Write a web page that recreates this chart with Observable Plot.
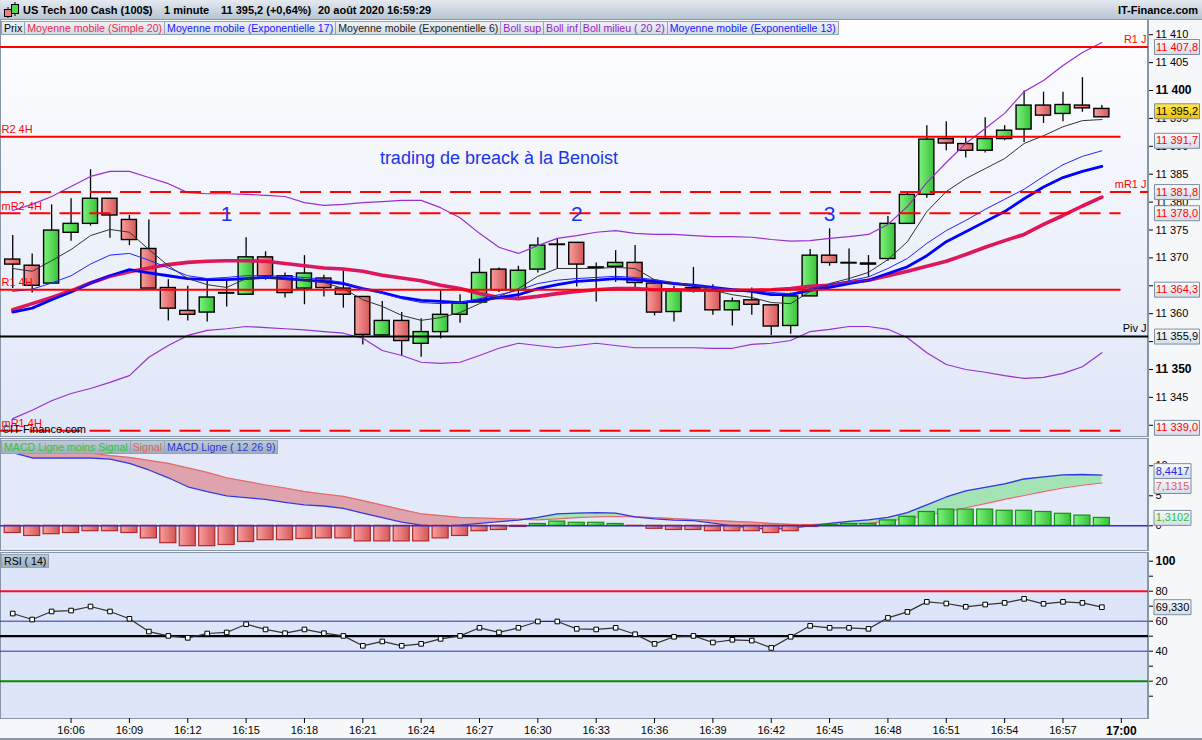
<!DOCTYPE html>
<html>
<head>
<meta charset="utf-8">
<script src="https://cdn.jsdelivr.net/npm/d3@7"></script>
<script src="https://cdn.jsdelivr.net/npm/@observablehq/plot@0.6"></script>
<style>
  body { margin: 0; background: #f6f7f9; font-family: "Liberation Sans", Arial, sans-serif; }
  #page { position: relative; width: 1202px; height: 740px; overflow: hidden; }
  .abs { position: absolute; }
  #hdr { left: 0; top: 0; width: 1202px; height: 19px; border-bottom: 1px solid #8a98a8;
         background: linear-gradient(#e4e9ef, #b7c5d2); font-size: 11px; font-weight: bold; line-height: 20px; }
  #hdr span { position: absolute; top: 0; white-space: nowrap; }
  .bg { left: 0; width: 1149px; box-sizing: border-box; border-left: 1px solid #8797a7; border-right: 2px solid #8797a7; }
  #mainBg { top: 20px; height: 417px; background: linear-gradient(#fefeff, #dfe6f7); border-bottom: 1px solid #8797a7; }
  #macdBg { top: 438px; height: 113px; background: #e3e9f9; border-top: 1px solid #8797a7; border-bottom: 1px solid #8797a7; }
  #rsiBg { top: 552px; height: 167px; background: #dde5f8; border-top: 1px solid #8797a7; border-bottom: 1px solid #8797a7; }
  #foot { left: 0; top: 738px; width: 1202px; height: 2px; background: #8797a7; }
  .legend { display: flex; left: 1px; font-size: 10.6px; line-height: 12px; }
  .legend span { border: 1px solid #93a3b3; margin-right: -1px; padding: 0 2px; white-space: nowrap;
                 background: linear-gradient(#eef2f6, #d3dbe4); }
  .legend.dark span { background: linear-gradient(#bccbd6, #9cafbd); }
  #copy { left: 2px; top: 423px; font-size: 11px; color: #000; }
</style>
</head>
<body>
<svg width="0" height="0" style="position:absolute">
  <defs>
    <linearGradient id="gUp" x1="0" x2="1" y1="0" y2="0"><stop offset="0" stop-color="#7ef27e"/><stop offset="1" stop-color="#38c238"/></linearGradient>
    <linearGradient id="gDn" x1="0" x2="1" y1="0" y2="0"><stop offset="0" stop-color="#fa9e9e"/><stop offset="1" stop-color="#d45757"/></linearGradient>
    <linearGradient id="gBox" x1="0" x2="0" y1="0" y2="1"><stop offset="0" stop-color="#f8fafd"/><stop offset="1" stop-color="#d4dde9"/></linearGradient>
    <linearGradient id="gYel" x1="0" x2="0" y1="0" y2="1"><stop offset="0" stop-color="#ffe94e"/><stop offset="1" stop-color="#f1c000"/></linearGradient>
  </defs>
</svg>
<div id="page">
  <div id="hdr" class="abs">
    <svg class="abs" style="left:2px;top:1px" width="18" height="18">
      <line x1="6" y1="6" x2="6" y2="17" stroke="#000"/><rect x="2.5" y="8.5" width="7" height="7" fill="#f08080" stroke="#000"/>
      <line x1="13" y1="1" x2="13" y2="15" stroke="#000"/><rect x="9.5" y="3.5" width="7" height="9" fill="#50d850" stroke="#000"/>
    </svg>
    <span style="left:23px">US Tech 100 Cash (100$)</span>
    <span style="left:164px">1 minute</span>
    <span style="left:221px">11 395,2 (+0,64%)</span>
    <span style="left:318px">20 août 2020 16:59:29</span>
    <span style="right:4px">IT-Finance.com</span>
  </div>
  <div id="mainBg" class="abs bg"></div>
  <div id="macdBg" class="abs bg"></div>
  <div id="rsiBg" class="abs bg"></div>
  <div id="foot" class="abs"></div>
  <div id="mainChart" class="abs" style="left:0;top:20px"></div>
  <div id="macdChart" class="abs" style="left:0;top:438px"></div>
  <div id="rsiChart" class="abs" style="left:0;top:552px"></div>
  <div class="legend abs" style="top:21px">
    <span>Prix</span>
    <span style="color:#ec2a52">Moyenne mobile (Simple 20)</span>
    <span style="color:#2020ff">Moyenne mobile (Exponentielle 17)</span>
    <span style="color:#222">Moyenne mobile (Exponentielle 6)</span>
    <span style="color:#9a20d0">Boll sup</span>
    <span style="color:#9a20d0">Boll inf</span>
    <span style="color:#9a20d0">Boll milieu ( 20 2)</span>
    <span style="color:#2020ff">Moyenne mobile (Exponentielle 13)</span>
  </div>
  <div class="legend dark abs" style="top:440px">
    <span style="color:#36c236">MACD Ligne moins Signal</span>
    <span style="color:#e25e5e">Signal</span>
    <span style="color:#3434d8">MACD Ligne ( 12 26 9)</span>
  </div>
  <div class="legend dark abs" style="top:554px"><span>RSI ( 14)</span></div>
  <div id="copy" class="abs">©IT-Finance.com</div>
</div>
<script>
// nombres à la française : 11 407,8
d3.formatDefaultLocale({ decimal: ',', thousands: ' ', grouping: [3], currency: ['', ' €'] })

// bougies 1 minute
const minutes = ['16:03','16:04','16:05','16:06','16:07','16:08','16:09','16:10','16:11','16:12',
  '16:13','16:14','16:15','16:16','16:17','16:18','16:19','16:20','16:21','16:22',
  '16:23','16:24','16:25','16:26','16:27','16:28','16:29','16:30','16:31','16:32',
  '16:33','16:34','16:35','16:36','16:37','16:38','16:39','16:40','16:41','16:42',
  '16:43','16:44','16:45','16:46','16:47','16:48','16:49','16:50','16:51','16:52',
  '16:53','16:54','16:55','16:56','16:57','16:58','16:59']
const emptyMinutes = ['17:00', '17:01']
const timeTicks = ['16:06','16:09','16:12','16:15','16:18','16:21','16:24','16:27','16:30','16:33',
  '16:36','16:39','16:42','16:45','16:48','16:51','16:54','16:57','17:00']

const open = [11369.7, 11368.6, 11365.4, 11374.5, 11376.1, 11380.6, 11376.8, 11371.6, 11364.6, 11360.5,
  11360.2, 11363.7, 11363.4, 11370.1, 11366.7, 11364.5, 11366.3, 11364.5, 11363.0, 11356.1,
  11358.7, 11354.6, 11356.7, 11359.8, 11362.0, 11367.9, 11364.2, 11367.9, 11372.4, 11372.7,
  11368.3, 11368.4, 11369.1, 11365.4, 11360.3, 11364.6, 11364.2, 11360.6, 11362.4, 11361.5,
  11357.8, 11363.1, 11370.4, 11369.1, 11369.0, 11369.8, 11376.1, 11381.3, 11391.3, 11390.4,
  11389.2, 11391.3, 11393.0, 11397.3, 11395.8, 11397.3, 11396.7]
const high = [11374.0, 11370.7, 11379.5, 11380.6, 11385.8, 11380.6, 11377.6, 11376.8, 11366.1, 11364.9,
  11366.0, 11366.1, 11373.6, 11371.1, 11367.3, 11370.4, 11366.9, 11367.9, 11363.0, 11362.2,
  11360.2, 11359.1, 11364.2, 11363.4, 11369.8, 11368.2, 11368.5, 11373.6, 11373.4, 11372.7,
  11369.1, 11371.3, 11372.2, 11365.4, 11364.9, 11368.3, 11365.2, 11362.8, 11364.6, 11361.6,
  11363.7, 11371.5, 11375.2, 11371.6, 11370.4, 11377.4, 11381.8, 11393.7, 11394.4, 11391.5,
  11395.1, 11393.7, 11399.9, 11399.7, 11399.7, 11402.3, 11397.3]
const low = [11364.5, 11363.7, 11365.4, 11373.0, 11375.7, 11373.5, 11372.2, 11364.5, 11358.7, 11358.7,
  11358.5, 11361.2, 11363.4, 11366.0, 11362.8, 11361.6, 11363.0, 11361.0, 11354.4, 11356.0,
  11352.5, 11352.2, 11355.5, 11358.3, 11362.0, 11363.8, 11362.4, 11367.3, 11368.0, 11364.8,
  11362.1, 11365.6, 11364.7, 11359.6, 11358.5, 11363.7, 11359.7, 11357.8, 11359.7, 11356.1,
  11356.3, 11363.1, 11368.5, 11365.4, 11366.5, 11369.4, 11376.1, 11380.7, 11389.2, 11387.9,
  11388.8, 11391.0, 11390.7, 11394.1, 11394.4, 11396.1, 11395.1]
const close = [11368.8, 11365.0, 11374.9, 11376.1, 11380.6, 11377.6, 11373.2, 11364.5, 11360.9, 11359.8,
  11362.9, 11363.6, 11370.1, 11366.7, 11363.7, 11367.2, 11364.6, 11363.4, 11356.2, 11358.7,
  11355.1, 11356.7, 11359.8, 11361.8, 11367.3, 11364.2, 11367.7, 11372.2, 11372.3, 11368.8,
  11368.2, 11369.1, 11365.5, 11360.2, 11364.0, 11364.4, 11360.6, 11362.2, 11361.6, 11357.7,
  11363.1, 11370.4, 11369.1, 11369.0, 11368.8, 11376.1, 11381.3, 11391.2, 11390.5, 11389.2,
  11391.3, 11392.8, 11397.3, 11395.5, 11397.4, 11396.8, 11395.2]

// moyennes mobiles et bandes de Bollinger
const ema6 = [11368.1, 11367.6, 11369.5, 11371.5, 11374.0, 11375.1, 11374.6, 11371.5, 11368.6, 11366.3,
  11365.2, 11364.7, 11366.3, 11366.5, 11366.1, 11366.0, 11365.6, 11364.5, 11362.5, 11361.3,
  11359.7, 11358.8, 11359.3, 11360.2, 11361.8, 11363.1, 11364.5, 11366.7, 11368.1, 11368.1,
  11368.1, 11368.3, 11368.1, 11366.1, 11365.4, 11365.1, 11364.2, 11363.4, 11362.9, 11362.0,
  11361.8, 11364.0, 11365.4, 11366.3, 11367.4, 11369.7, 11372.9, 11378.3, 11381.9, 11384.2,
  11386.0, 11387.8, 11390.5, 11391.9, 11393.5, 11394.6, 11394.8]
const ema13 = [11364.0, 11364.4, 11365.5, 11366.8, 11368.9, 11370.5, 11370.8, 11369.6, 11368.2, 11366.8,
  11366.3, 11366.5, 11366.8, 11366.8, 11366.7, 11366.5, 11366.1, 11365.6, 11364.5, 11363.6,
  11362.7, 11362.0, 11361.8, 11362.0, 11362.7, 11363.4, 11364.2, 11365.4, 11366.0, 11366.3,
  11366.5, 11366.7, 11366.5, 11366.1, 11365.6, 11365.1, 11364.7, 11364.3, 11364.2, 11363.8,
  11363.6, 11364.5, 11365.2, 11365.9, 11366.6, 11368.1, 11369.9, 11372.6, 11374.9, 11376.7,
  11378.7, 11380.5, 11382.3, 11384.6, 11386.7, 11388.2, 11389.2]
const ema17 = [11360.3, 11361.0, 11362.5, 11363.9, 11365.5, 11366.8, 11367.9, 11367.3, 11366.8, 11366.3,
  11366.1, 11366.1, 11366.3, 11366.5, 11366.3, 11366.0, 11365.8, 11365.4, 11364.5, 11363.8,
  11362.9, 11362.4, 11362.2, 11362.0, 11362.4, 11362.9, 11363.4, 11364.5, 11365.2, 11365.8,
  11366.0, 11366.3, 11366.1, 11365.8, 11365.4, 11365.1, 11364.7, 11364.3, 11364.0, 11363.4,
  11363.4, 11364.2, 11364.7, 11365.4, 11366.0, 11367.2, 11368.4, 11370.4, 11372.9, 11374.7,
  11376.5, 11378.3, 11380.6, 11382.7, 11384.4, 11385.5, 11386.4]
const sma20 = [11360.7, 11361.8, 11362.9, 11364.1, 11365.5, 11366.7, 11367.5, 11368.2, 11368.8, 11369.2,
  11369.4, 11369.5, 11369.5, 11369.4, 11369.0, 11368.6, 11368.2, 11368.0, 11367.6, 11366.9,
  11366.4, 11365.9, 11365.1, 11364.5, 11363.6, 11362.9, 11362.7, 11363.1, 11363.6, 11364.0,
  11364.3, 11364.5, 11364.5, 11364.3, 11364.3, 11364.2, 11364.2, 11364.2, 11364.2, 11364.3,
  11364.5, 11364.9, 11365.1, 11365.6, 11366.0, 11366.8, 11367.6, 11368.5, 11369.4, 11370.6,
  11371.9, 11373.1, 11374.2, 11376.0, 11377.6, 11379.3, 11380.9]
const bollSup = [11378.5, 11379.6, 11381.0, 11382.8, 11384.6, 11385.5, 11385.5, 11384.4, 11383.3, 11381.7,
  11381.5, 11381.5, 11381.4, 11381.2, 11381.0, 11379.9, 11379.4, 11379.6, 11379.9, 11380.1,
  11380.3, 11380.3, 11379.0, 11377.2, 11374.4, 11371.9, 11370.8, 11372.2, 11373.5, 11374.0,
  11374.6, 11374.9, 11374.4, 11374.2, 11374.2, 11374.0, 11373.8, 11373.8, 11373.7, 11373.3,
  11373.0, 11373.1, 11373.5, 11373.8, 11374.2, 11376.0, 11379.2, 11383.5, 11387.1, 11390.5,
  11393.2, 11395.9, 11399.8, 11401.8, 11404.5, 11406.8, 11408.6]
const bollInf = [11341.2, 11342.7, 11344.4, 11345.7, 11346.6, 11347.7, 11348.9, 11352.2, 11354.3, 11356.1,
  11357.0, 11357.3, 11357.7, 11357.5, 11357.3, 11357.1, 11356.8, 11356.5, 11355.6, 11353.4,
  11352.5, 11351.3, 11351.1, 11351.3, 11352.5, 11353.8, 11354.7, 11354.3, 11353.9, 11354.3,
  11354.7, 11354.3, 11353.9, 11353.9, 11353.9, 11353.9, 11353.8, 11353.8, 11354.5, 11354.7,
  11355.2, 11356.8, 11357.2, 11357.7, 11357.7, 11357.2, 11355.7, 11353.0, 11350.9, 11350.0,
  11349.5, 11348.9, 11348.4, 11348.6, 11349.3, 11350.5, 11353.0]

// MACD (12 26 9)
const macdLine = [12.2, 11.3, 11.3, 11.3, 11.3, 11.1, 10.4, 9.3, 8.0, 6.5,
  5.7, 5.0, 4.7, 4.4, 3.9, 3.5, 3.3, 2.9, 2.1, 1.35,
  0.6, 0.1, -0.1, 0.1, 0.4, 0.7, 0.95, 1.4, 2.0, 2.1,
  2.2, 2.1, 1.5, 1.15, 0.95, 0.85, 0.45, 0.0, -0.35, -0.6,
  -0.4, 0.0, 0.4, 0.75, 1.0, 1.4, 2.2, 3.5, 4.8, 5.8,
  6.4, 7.0, 7.8, 8.15, 8.5, 8.55, 8.4417]
const macdSignal = [13.0, 12.6, 12.4, 12.2, 12.1, 11.7, 11.4, 10.9, 10.4, 9.65,
  8.9, 8.0, 7.4, 6.8, 6.3, 5.7, 5.3, 4.9, 4.2, 3.45,
  2.7, 2.0, 1.7, 1.4, 1.3, 1.2, 1.1, 1.0, 1.15, 1.35,
  1.5, 1.55, 1.5, 1.35, 1.2, 1.05, 0.9, 0.75, 0.6, 0.4,
  0.25, 0.2, 0.2, 0.3, 0.4, 0.8, 1.2, 1.75, 2.3, 3.0,
  3.7, 4.4, 5.05, 5.7, 6.3, 6.75, 7.1315]
const macdHist = [-1.2, -1.7, -1.4, -1.2, -0.9, -0.9, -1.2, -2.1, -2.9, -3.4,
  -3.4, -3.2, -2.7, -2.4, -2.4, -2.2, -2.1, -2.1, -2.6, -2.6,
  -2.6, -2.6, -2.1, -1.7, -0.9, -0.7, -0.2, 0.3, 0.7, 0.5,
  0.5, 0.3, -0.05, -0.5, -0.7, -0.7, -0.9, -0.9, -0.9, -1.2,
  -0.9, -0.2, 0.15, 0.3, 0.3, 0.9, 1.5, 2.3, 2.7, 2.7,
  2.7, 2.5, 2.5, 2.3, 2.0, 1.7, 1.3102]

// RSI (14)
const rsi = [65.1, 61.1, 66.5, 67.1, 69.8, 66.5, 61.6, 53.1, 50.2, 48.9,
  51.8, 52.5, 58.0, 54.5, 52.0, 54.5, 52.0, 50.2, 43.6, 46.5,
  43.6, 44.9, 48.2, 50.2, 55.6, 52.5, 55.6, 59.8, 59.8, 54.9,
  54.5, 55.6, 51.3, 44.9, 49.6, 50.2, 45.8, 47.6, 47.1, 42.2,
  49.6, 56.9, 55.6, 55.6, 54.9, 62.2, 66.2, 72.9, 71.8, 69.6,
  71.1, 72.2, 74.9, 71.6, 72.9, 72.2, 69.33]
const rsiTicks = [10, 20, 30, 40, 50, 60, 70, 80, 90, 100]

// niveaux pivots
const levelNames = ['R1 J', 'R2 4H', 'mR1 J', 'mR2 4H', 'R1 4H', 'Piv J', 'mR1 4H']
const levelValues = [11407.8, 11391.7, 11381.8, 11378.0, 11364.3, 11355.9, 11339.0]
const priceTicks = [11340, 11345, 11350, 11355, 11360, 11365, 11370, 11375, 11380, 11385, 11390, 11395, 11400, 11405, 11410]
// graduations entièrement cachées par les étiquettes de niveau
const hiddenTicks = [11340, 11355, 11365]

// annotations
const noteText = ['trading de breack à la Benoist', '1', '2', '3']
const noteTime = ['16:28', '16:14', '16:32', '16:45']
const notePrice = [11387.8, 11377.9, 11377.9, 11377.9]

const candles = minutes.map((t, i) => ({
  t, open: open[i], high: high[i], low: low[i], close: close[i],
  ema6: ema6[i], ema13: ema13[i], ema17: ema17[i], sma20: sma20[i],
  bollSup: bollSup[i], bollInf: bollInf[i],
  macd: macdLine[i], signal: macdSignal[i], hist: macdHist[i], rsi: rsi[i],
}))
const up = candles.filter(d => d.close > d.open)
const down = candles.filter(d => d.close <= d.open)
const levels = levelNames.map((name, i) => ({ name, value: levelValues[i] }))
const daily = levels.filter(d => d.name.endsWith(' J'))
const h4 = levels.filter(d => !d.name.endsWith(' J'))
const dashed = d => d.name.startsWith('m')
const notes = noteText.map((text, i) => ({ text, t: noteTime[i], price: notePrice[i] }))
const levelOf = name => levelValues[levelNames.indexOf(name)]

const fmtTick = d3.format(',')
const fmtPrice = d3.format(',.1f')
const RED = '#ff0000'
const DASH = '21,9'
const font = { background: 'transparent', fontFamily: "'Liberation Sans', Arial, sans-serif", fontSize: '11px', overflow: 'visible' }
const xBand = { type: 'band', domain: minutes.concat(emptyMinutes), range: [2.5, 1150], padding: 0, align: 0.5, round: false }
// les niveaux 4H s'arrêtent sur la dernière minute
const h4Span = { x1: () => minutes[0], x2: () => emptyMinutes[0], insetLeft: -3, insetRight: 10 }

// petite boîte des valeurs sur l'axe de droite
const boxSymbol = (w, h) => ({
  draw(ctx) {
    ctx.moveTo(-w / 2, -h / 2); ctx.lineTo(w / 2, -h / 2); ctx.lineTo(w / 2, h / 2); ctx.lineTo(-w / 2, h / 2); ctx.closePath()
  }
})
const valueBox = (values, format, color, { w = 45, dx = 28.5, dy = 0, fill = 'url(#gBox)' } = {}) => [
  Plot.dot(values, { y: d => d, frameAnchor: 'right', dx, dy, symbol: boxSymbol(w, 15), fill, stroke: '#7c8ea0', strokeWidth: 1 }),
  Plot.text(values, { y: d => d, frameAnchor: 'right', textAnchor: 'middle', dx, dy, text: format, fill: color, fontSize: 11 }),
]

// graphique principal
const mainChart = Plot.plot({
  width: 1202, height: 418,
  marginTop: 16, marginBottom: 1, marginLeft: 0, marginRight: 54,
  style: font,
  x: { ...xBand, axis: null },
  y: {
    domain: [11337.81, 11409.68], axis: 'right', ticks: priceTicks,
    tickFormat: d => (hiddenTicks.includes(d) ? '' : fmtTick(d)), tickSize: 4, tickPadding: 3, label: null,
  },
  marks: [
    Plot.ruleX(candles, { x: 't', y1: 'low', y2: 'high', stroke: '#000', strokeWidth: 1.3 }),
    Plot.barY(up, { x: 't', y1: 'open', y2: 'close', fill: 'url(#gUp)', stroke: '#000', strokeWidth: 1.4, insetLeft: 2.2, insetRight: 2.2 }),
    Plot.barY(down, { x: 't', y1: 'open', y2: 'close', fill: 'url(#gDn)', stroke: '#000', strokeWidth: 1.4, insetLeft: 2.2, insetRight: 2.2 }),
    Plot.line(candles, { x: 't', y: 'sma20', stroke: '#e8124a', strokeWidth: 3.6 }),
    Plot.line(candles, { x: 't', y: 'ema17', stroke: '#0000ff', strokeWidth: 2.8 }),
    Plot.line(candles, { x: 't', y: 'ema6', stroke: '#333', strokeWidth: 1 }),
    Plot.line(candles, { x: 't', y: 'bollSup', stroke: '#9a2fd0', strokeWidth: 1.2 }),
    Plot.line(candles, { x: 't', y: 'bollInf', stroke: '#9a2fd0', strokeWidth: 1.2 }),
    Plot.line(candles, { x: 't', y: 'sma20', stroke: '#b02aa0', strokeWidth: 1, strokeOpacity: 0.6 }),
    Plot.line(candles, { x: 't', y: 'ema13', stroke: '#2424ff', strokeWidth: 1 }),

    // niveaux journaliers : toute la largeur
    Plot.ruleY(daily.filter(d => !dashed(d) && d.name !== 'Piv J'), { y: 'value', stroke: RED, strokeWidth: 2 }),
    Plot.ruleY(daily.filter(d => d.name === 'Piv J'), { y: 'value', stroke: '#000', strokeWidth: 2 }),
    Plot.ruleY(daily.filter(dashed), { y: 'value', stroke: RED, strokeWidth: 2, strokeDasharray: DASH }),
    Plot.ruleY(h4.filter(d => !dashed(d)), { y: 'value', ...h4Span, stroke: RED, strokeWidth: 2 }),
    Plot.ruleY(h4.filter(dashed), { y: 'value', ...h4Span, stroke: RED, strokeWidth: 2, strokeDasharray: DASH }),
    Plot.text(daily.filter(d => d.name !== 'Piv J'), { y: 'value', text: 'name', frameAnchor: 'right', textAnchor: 'end', dx: -2, dy: -8, fill: RED, fontSize: 11 }),
    Plot.text(daily.filter(d => d.name === 'Piv J'), { y: 'value', text: 'name', frameAnchor: 'right', textAnchor: 'end', dx: -2, dy: -8, fill: '#000', fontSize: 11 }),
    Plot.text(h4, { y: 'value', text: 'name', frameAnchor: 'left', textAnchor: 'start', dx: 1, dy: -7, fill: RED, fontSize: 11 }),

    Plot.text(notes.slice(0, 1), { x: 't', y: 'price', text: 'text', fill: '#1a35e8', fontSize: 18 }),
    Plot.text(notes.slice(1), { x: 't', y: 'price', text: 'text', fill: '#1a35e8', fontSize: 21 }),

    // étiquettes de valeur, décalées comme sur la plateforme quand elles se touchent
    ...valueBox([levelOf('R1 J'), levelOf('mR1 J'), levelOf('mR2 4H'), levelOf('R1 4H')], fmtPrice, RED),
    ...valueBox([levelOf('R2 4H')], fmtPrice, RED, { dy: 4 }),
    ...valueBox([levelOf('mR1 4H')], fmtPrice, RED, { dy: -3 }),
    ...valueBox([levelOf('Piv J')], fmtPrice, '#000'),
    ...valueBox([close[close.length - 1]], fmtPrice, '#000', { dy: -6, fill: 'url(#gYel)' }),
  ],
})

// MACD
const macdUp = candles.filter(d => d.hist > 0)
const macdDown = candles.filter(d => d.hist <= 0)
const fmt4 = d3.format('.4f')
const macdChart = Plot.plot({
  width: 1202, height: 113,
  marginTop: 1, marginBottom: 1, marginLeft: 0, marginRight: 54,
  style: font,
  x: { ...xBand, axis: null },
  y: { domain: [-4.12, 14.38], axis: 'right', ticks: [0, 5, 10], tickSize: 4, tickPadding: 3, label: null },
  marks: [
    Plot.areaY(candles, { x: 't', y1: 'macd', y2: d => Math.max(d.macd, d.signal), fill: '#dfa3ad' }),
    Plot.areaY(candles, { x: 't', y1: 'signal', y2: d => Math.max(d.macd, d.signal), fill: '#a3e3b5' }),
    Plot.line(candles, { x: 't', y: 'signal', stroke: '#e26a6a', strokeWidth: 1.2 }),
    Plot.line(candles, { x: 't', y: 'macd', stroke: '#3535e0', strokeWidth: 1.3 }),
    Plot.barY(macdUp, { x: 't', y: 'hist', fill: 'url(#gUp)', stroke: '#169016', strokeWidth: 1.2, insetLeft: 1.7, insetRight: 1.7 }),
    Plot.barY(macdDown, { x: 't', y: 'hist', fill: 'url(#gDn)', stroke: '#b02a2a', strokeWidth: 1.2, insetLeft: 1.7, insetRight: 1.7 }),
    Plot.ruleY([0], { stroke: '#3030d0', strokeWidth: 1.5 }),
    ...valueBox([macdLine[macdLine.length - 1]], fmt4, '#2a2ae0', { w: 37, dx: 24, dy: -4 }),
    ...valueBox([macdSignal[macdSignal.length - 1]], fmt4, '#e26060', { w: 37, dx: 24, dy: 3 }),
    ...valueBox([macdHist[macdHist.length - 1]], fmt4, '#2cc02c', { w: 37, dx: 24 }),
  ],
})

// RSI
const rsiChart = Plot.plot({
  width: 1202, height: 188,
  marginTop: 1, marginBottom: 22, marginLeft: 0, marginRight: 54,
  style: font,
  x: { ...xBand, ticks: timeTicks, tickSize: 5, tickPadding: 3, label: null },
  y: { domain: [-4.87, 105.13], axis: 'right', ticks: rsiTicks, tickFormat: d => (d % 20 === 0 ? String(d) : ''), tickSize: 4, tickPadding: 3, label: null },
  marks: [
    Plot.ruleY([80], { stroke: '#ff0a2a', strokeWidth: 2 }),
    Plot.ruleY([60, 40], { stroke: '#2a2ac8', strokeWidth: 1 }),
    Plot.ruleY([50], { stroke: '#000', strokeWidth: 2.2 }),
    Plot.ruleY([20], { stroke: '#078a07', strokeWidth: 2 }),
    Plot.line(candles, { x: 't', y: 'rsi', stroke: '#333', strokeWidth: 1.2 }),
    Plot.dot(candles, { x: 't', y: 'rsi', symbol: 'square', r: 2.6, fill: '#fff', stroke: '#000', strokeWidth: 1 }),
    ...valueBox([rsi[rsi.length - 1]], d3.format('.3f'), '#000', { w: 37, dx: 24 }),
  ],
})

d3.select('#mainChart').append(() => mainChart)
d3.select('#macdChart').append(() => macdChart)
d3.select('#rsiChart').append(() => rsiChart)

// quelques libellés d'axe en gras, comme sur la plateforme
const boldLabels = ['11 350', '11 400', '100', '17:00']
d3.selectAll('#page svg text')
  .filter(function () { return boldLabels.includes(this.textContent) })
  .attr('font-weight', 'bold')
  .attr('font-size', 12)
</script>
</body>
</html>
